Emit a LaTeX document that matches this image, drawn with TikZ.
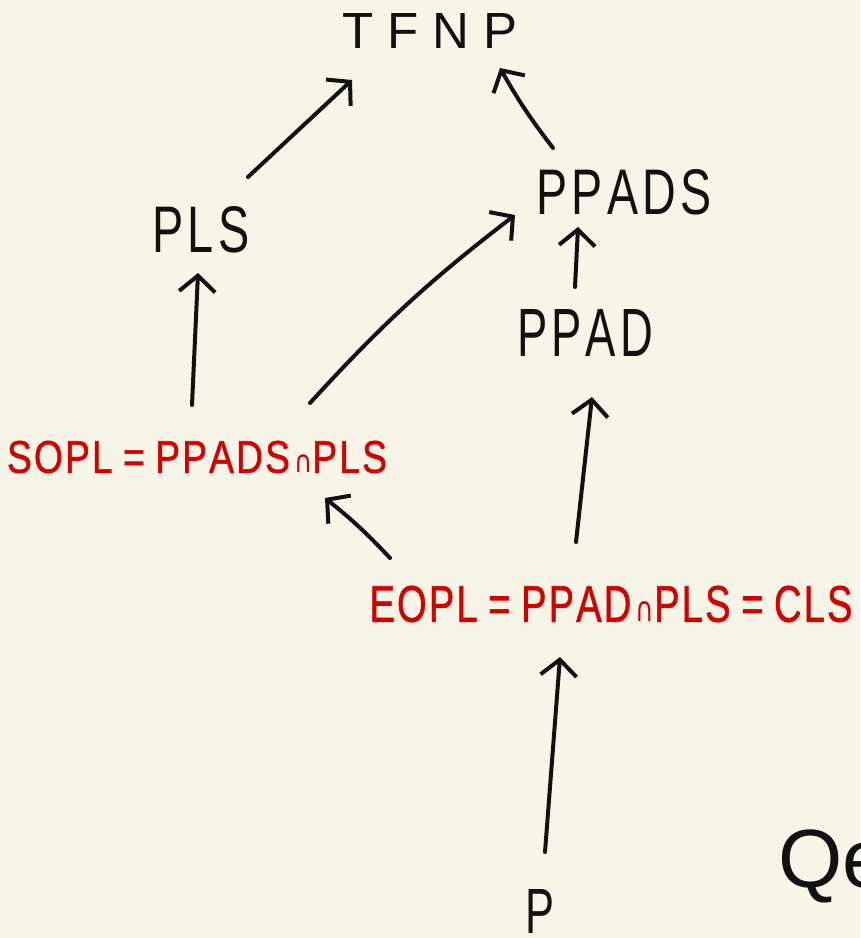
\documentclass[tikz,border=0pt]{standalone}
\usepackage{graphicx}
\usepackage{fontspec}
\setmainfont{Liberation Sans}
\newfontfamily\capfont{DejaVu Sans}
\newfontfamily\redfont{Liberation Sans}[FakeBold=1.2]
\usetikzlibrary{arrows.meta,calc}
\definecolor{paper}{HTML}{F7F5E8}
\definecolor{ink}{HTML}{111111}
\definecolor{redink}{HTML}{D40000}
\tikzset{
  cls/.style={text=ink,inner sep=0pt,font=\fontsize{44}{44}\selectfont},
  eqn/.style={text=redink,inner sep=0pt,font=\redfont\fontsize{36}{36}\selectfont},
  harrow/.style={draw=ink,line width=3pt,line cap=round,line join=round,
    -{Straight Barb[length=12pt,width=27pt,line width=3pt]}},
}
\newcommand{\fitbox}[3]{\resizebox{#1pt}{#2pt}{#3}}
\newcommand{\g}{\kern4pt}
\newcommand{\h}{\kern2pt}
\newcommand{\capsym}{{\capfont\fontsize{24}{24}\selectfont\,∩}}
\begin{document}
\begin{tikzpicture}[x=0.75pt,y=-0.75pt]
\fill[paper] (0,0) rectangle (860,938);
\useasboundingbox (0,0) rectangle (860,938);
\clip (0,0) rectangle (860,938);
\node[cls] (TFNP) at (430,31) {\fitbox{131.25}{26.25}{T\kern12pt F\kern12pt N\kern12pt P}};
\node[cls] (PLS) at (201,230) {\fitbox{72.75}{34.5}{P\g L\g S}};
\node[cls] (PPADS) at (624,192) {\fitbox{131.25}{33.75}{P\g P\g A\g D\g S}};
\node[cls] (PPAD) at (585,333) {\fitbox{102}{35.25}{P\g P\g A\g D}};
\node[eqn] (SOPL) at (197,457) {\fitbox{285}{24}{S\h O\h P\h L = P\h P\h A\h D\h S\capsym P\h L\h S}};
\node[eqn] (EOPL) at (611,604) {\fitbox{362.25}{27}{E\h O\h P\h L = P\h P\h A\h D\capsym P\h L\h S = C\h L\h S}};
\node[cls] (P) at (540,911) {\fitbox{21.75}{33}{P}};
\node[cls,anchor=west,font=\fontsize{62}{62}\selectfont] (Q) at (778,866) {Qe};
\draw[harrow] ($(PLS)+(47,-53)$) -- ($(TFNP)+(-78,49)$);
\draw[harrow] ($(PPADS)+(-71,-44)$) to[bend left=4] ($(TFNP)+(70,37)$);
\draw[harrow] ($(SOPL)+(-5,-52)$) -- ($(PLS)+(-3,43)$);
\draw[harrow] ($(SOPL)+(113,-54)$) to[bend left=5] ($(PPADS)+(-109,23)$);
\draw[harrow] ($(PPAD)+(-10,-46)$) -- ($(PPADS)+(-46,35)$);
\draw[harrow] ($(EOPL)+(-221,-46)$) to[bend right=4] ($(SOPL)+(128,41)$);
\draw[harrow] ($(EOPL)+(-35,-62)$) -- ($(PPAD)+(7,64)$);
\draw[harrow] ($(P)+(5,-59)$) -- ($(EOPL)+(-51,53)$);
\end{tikzpicture}
\end{document}
